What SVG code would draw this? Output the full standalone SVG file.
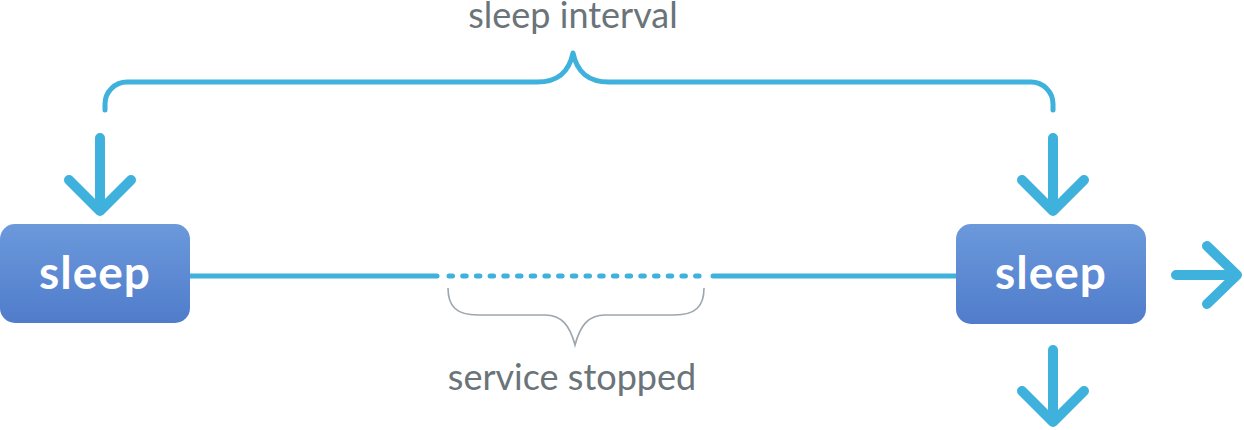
<svg xmlns="http://www.w3.org/2000/svg" width="1244" height="430" viewBox="0 0 1244 430">
<style>
.blue{fill:none;stroke:#3eb1dc;stroke-linecap:round;stroke-linejoin:round}
.arrow{stroke-width:10}
.line{stroke-width:5}
.gray{fill:none;stroke:#9ba6ae;stroke-width:1.6}
.lbl{font-family:Lato,"Liberation Sans",sans-serif;font-size:36px;fill:#6a7479;text-anchor:middle}
.node text{font-family:Lato,"Liberation Sans",sans-serif;font-weight:bold;font-size:46px;letter-spacing:1px;fill:#ffffff;text-anchor:middle}
</style>
<defs>
<linearGradient id="g" x1="0" y1="0" x2="0" y2="1">
<stop offset="0" stop-color="#6b99db"/>
<stop offset="1" stop-color="#507ccb"/>
</linearGradient>
</defs>
<g id="connectors">
<path class="blue line" d="M190,276 H437"/>
<path class="blue line" d="M449,276 H707" stroke-dasharray="3.5 10.2"/>
<path class="blue line" d="M713,276 H956"/>
<path class="blue line" d="M105,110 V104 A22,22 0 0 1 127,82 H537 C558,82 569,72 573,53 C577,72 588,82 609,82 H1031 A22,22 0 0 1 1053,104 V110"/>
<path class="gray" d="M448,288 C448,306 456,315 478,315 H545 C562,315 570,326 575,345 C580,326 588,315 605,315 H674 C696,315 704,306 704,288"/>
<path class="blue arrow" d="M100,138 V210 M69,180 L100,211 L131,180"/>
<path class="blue arrow" d="M1053,138 V210 M1022,180 L1053,211 L1084,180"/>
<path class="blue arrow" d="M1176,275 H1235 M1207,246 L1237,275 L1207,304"/>
<path class="blue arrow" d="M1053,350 V421 M1022,391 L1053,422 L1084,391"/>
</g>
<g id="node-sleep-1" class="node">
<rect x="0" y="224" width="190" height="99" rx="15" fill="url(#g)"/>
<text x="95" y="289">sleep</text>
</g>
<g id="node-sleep-2" class="node">
<rect x="956" y="224" width="190" height="100" rx="15" fill="url(#g)"/>
<text x="1051" y="289">sleep</text>
</g>
<g id="label-interval">
<text class="lbl" x="573" y="28">sleep interval</text>
</g>
<g id="label-stopped">
<text class="lbl" x="572" y="390">service stopped</text>
</g>
</svg>
